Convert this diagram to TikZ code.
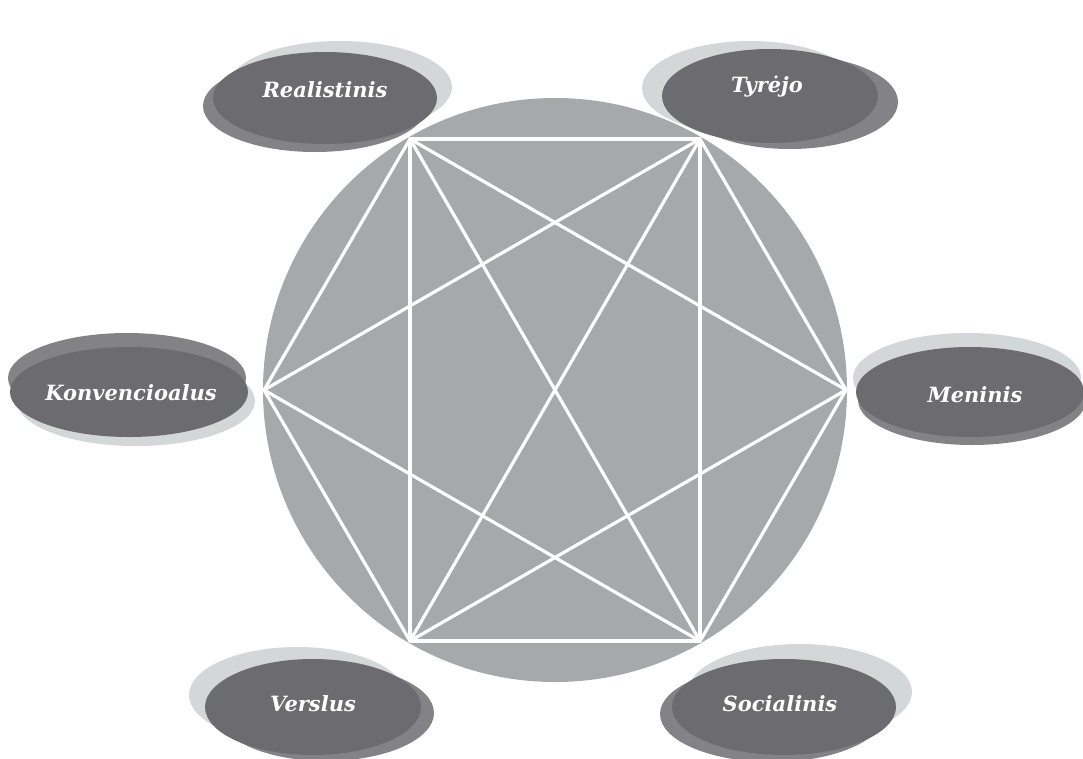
\documentclass[tikz,border=0pt]{standalone}
\usepackage{fontspec}
\newfontfamily\lblfont{DejaVu Serif}
\definecolor{circfill}{HTML}{A7A8AA}
\definecolor{darkell}{HTML}{6C6B70}
\definecolor{midell}{HTML}{838286}
\definecolor{lightell}{HTML}{D4D7D8}
\tikzset{
  lbl/.style={text=white, inner sep=0pt, font=\lblfont\bfseries\itshape\fontsize{21}{21}\selectfont},
  wline/.style={white, line width=3.2pt, line join=round, line cap=round},
  lightshape/.style={fill=lightell},
  midshape/.style={fill=midell},
  darkshape/.style={fill=darkell}
}
\newcommand{\triell}[8]{%
  % #1,#2 dark centre; #3 rx; #4 ry; #5,#6 light centre; #7,#8 mid centre
  \fill[lightshape] (#5,#6) ellipse [x radius=#3pt, y radius=#4pt];
  \fill[midshape] (#7,#8) ellipse [x radius=#3pt, y radius=#4pt];
  \fill[darkshape] (#1,#2) ellipse [x radius=#3pt, y radius=#4pt];
}
\begin{document}
\begin{tikzpicture}[x=1pt,y=-1pt]
\useasboundingbox[fill=white] (0,0) rectangle (1083,758);
% big circle
\fill[circfill] (555,390) circle [radius=292pt];
% hexagon vertices
\coordinate (tl) at (410,139);
\coordinate (tr) at (700,139);
\coordinate (r)  at (846,390);
\coordinate (br) at (700,641);
\coordinate (bl) at (410,641);
\coordinate (l)  at (264,390);
% rectangle
\draw[wline] (tl) -- (tr) -- (br) -- (bl) -- cycle;
% hexagon sides
\draw[wline] (tl) -- (l) -- (bl);
\draw[wline] (tr) -- (r) -- (br);
% diagonals
\draw[wline] (tl) -- (br);
\draw[wline] (tr) -- (bl);
\draw[wline] (tl) -- (r);
\draw[wline] (bl) -- (r);
\draw[wline] (tr) -- (l);
\draw[wline] (br) -- (l);
% ellipses
\triell{325}{98}{112}{46}{340}{87}{315}{106}
\triell{770}{96}{108}{47}{750}{88}{790}{102}
\triell{129}{392}{119}{45}{136}{401}{127}{378}
\triell{970}{392}{114}{45}{967}{378}{972}{400}
\triell{313}{707}{108}{48}{297}{695}{326}{713}
\triell{784}{707}{112}{48}{800}{692}{772}{714}
% labels
\node[lbl] (realistinis) at (325,90) {Realistinis};
\node[lbl] (tyrejo) at (767,87) {Tyrėjo};
\node[lbl] (konvencioalus) at (131,393) {Konvencioalus};
\node[lbl] (meninis) at (975,395) {Meninis};
\node[lbl] (verslus) at (313,704) {Verslus};
\node[lbl] (socialinis) at (780,704) {Socialinis};
\end{tikzpicture}
\end{document}
